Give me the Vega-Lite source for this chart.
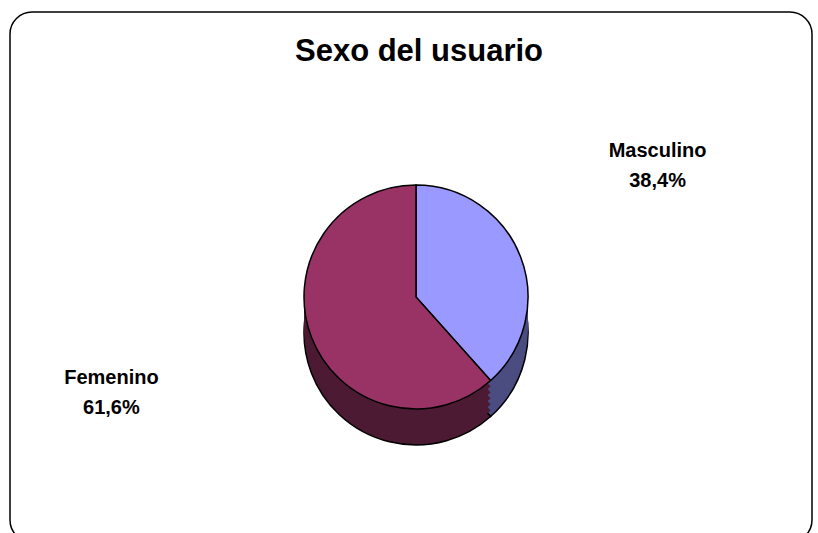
{
  "$schema": "https://vega.github.io/schema/vega-lite/v6.json",
  "width": 802,
  "height": 530,
  "padding": {"left": 10, "top": 12, "right": 6, "bottom": 0},
  "autosize": {"type": "none"},
  "background": "white",
  "view": {"stroke": "#000000", "strokeWidth": 1.5, "cornerRadius": 22, "fill": "#ffffff"},
  "config": {
    "view": {"stroke": "#000000", "strokeWidth": 1.5, "cornerRadius": 22},
    "font": "Liberation Sans"
  },
  "title": {
    "text": "Sexo del usuario",
    "fontSize": 31,
    "fontWeight": "bold",
    "color": "#000000",
    "font": "Liberation Sans",
    "anchor": "middle",
    "offset": -56,
    "dx": 8
  },
  "data": {
    "values": [
      {"sexo": "Masculino", "porcentaje": 38.4, "etiqueta": "Masculino\n38,4%"},
      {"sexo": "Femenino", "porcentaje": 61.6, "etiqueta": "Femenino\n61,6%"}
    ]
  },
  "encoding": {
    "theta": {"field": "porcentaje", "type": "quantitative", "stack": true},
    "order": {"field": "sexo", "type": "nominal", "sort": "descending"}
  },
  "layer": [
    {
      "mark": {"type": "arc", "outerRadius": 112, "yOffset": 56, "xOffset": 5, "stroke": "#000000", "strokeWidth": 1.5},
      "encoding": {
        "fill": {"condition": {"test": "datum.sexo === 'Masculino'", "value": "#4B4C80"}, "value": "#4C1A33"}
      }
    },
    {
      "mark": {"type": "arc", "outerRadius": 112, "yOffset": 50, "xOffset": 5},
      "encoding": {
        "fill": {"condition": {"test": "datum.sexo === 'Masculino'", "value": "#4B4C80"}, "value": "#4C1A33"}
      }
    },
    {
      "mark": {"type": "arc", "outerRadius": 112, "yOffset": 44, "xOffset": 5},
      "encoding": {
        "fill": {"condition": {"test": "datum.sexo === 'Masculino'", "value": "#4B4C80"}, "value": "#4C1A33"}
      }
    },
    {
      "mark": {"type": "arc", "outerRadius": 112, "yOffset": 38, "xOffset": 5},
      "encoding": {
        "fill": {"condition": {"test": "datum.sexo === 'Masculino'", "value": "#4B4C80"}, "value": "#4C1A33"}
      }
    },
    {
      "mark": {"type": "arc", "outerRadius": 112, "yOffset": 32, "xOffset": 5},
      "encoding": {
        "fill": {"condition": {"test": "datum.sexo === 'Masculino'", "value": "#4B4C80"}, "value": "#4C1A33"}
      }
    },
    {
      "mark": {"type": "arc", "outerRadius": 112, "yOffset": 26, "xOffset": 5},
      "encoding": {
        "fill": {"condition": {"test": "datum.sexo === 'Masculino'", "value": "#4B4C80"}, "value": "#4C1A33"}
      }
    },
    {
      "mark": {"type": "arc", "outerRadius": 112, "yOffset": 20, "xOffset": 5, "stroke": "#000000", "strokeWidth": 1.5},
      "encoding": {
        "color": {
          "field": "sexo",
          "type": "nominal",
          "scale": {"domain": ["Masculino", "Femenino"], "range": ["#9999FF", "#993366"]},
          "legend": null
        }
      }
    },
    {
      "mark": {"type": "text", "radius": 250, "xOffset": 5, "yOffset": 8, "dx": 8, "dy": -45, "fontSize": 20, "fontWeight": "bold", "lineBreak": "\n", "lineHeight": 30, "align": "center", "baseline": "middle", "color": "#000000"},
      "encoding": {
        "text": {"condition": {"test": "datum.sexo === 'Masculino'", "field": "etiqueta"}, "value": ""}
      }
    },
    {
      "mark": {"type": "text", "radius": 250, "xOffset": 5, "yOffset": 8, "dx": -71, "dy": 4, "fontSize": 20, "fontWeight": "bold", "lineBreak": "\n", "lineHeight": 30, "align": "center", "baseline": "middle", "color": "#000000"},
      "encoding": {
        "text": {"condition": {"test": "datum.sexo === 'Femenino'", "field": "etiqueta"}, "value": ""}
      }
    }
  ]
}
